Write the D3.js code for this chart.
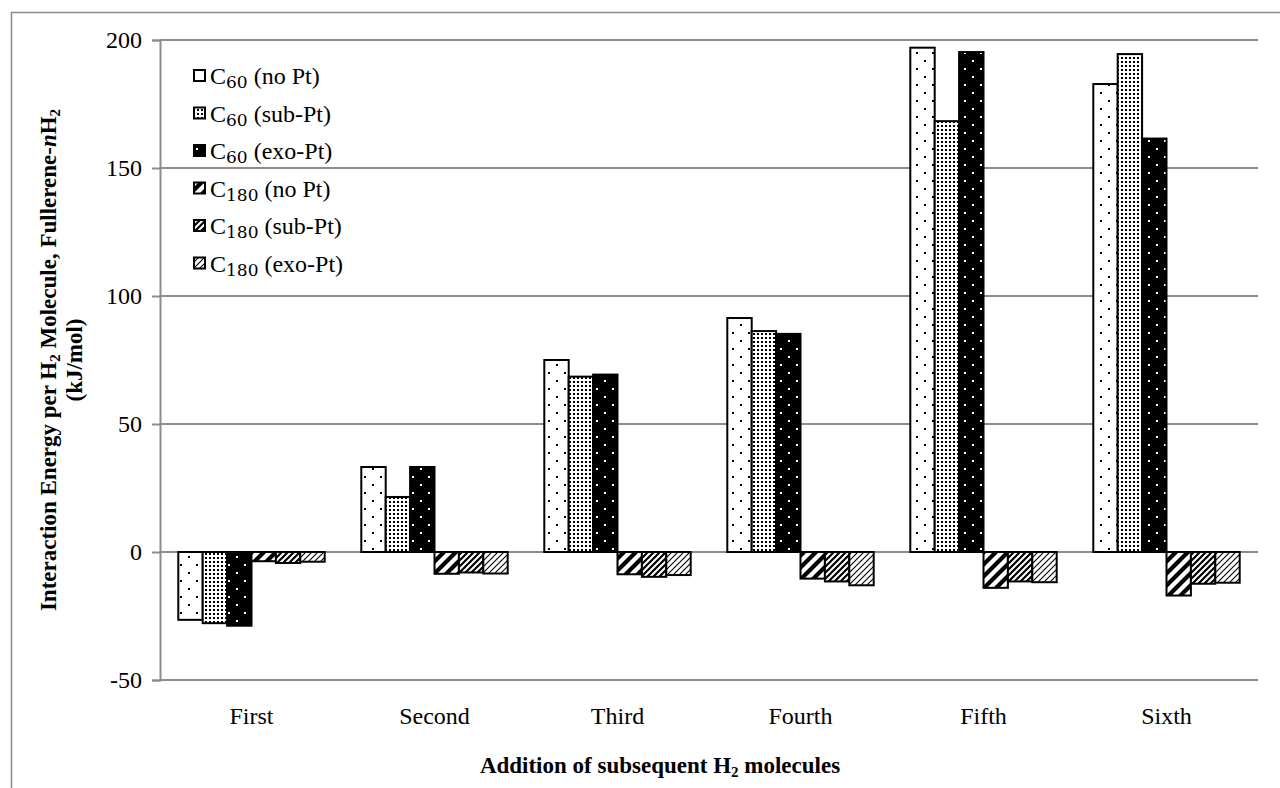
<!DOCTYPE html>
<html><head><meta charset="utf-8">
<script src="https://cdn.jsdelivr.net/npm/d3@7"></script>
<style>body{margin:0;background:#fff}svg{display:block}text{font-family:"Liberation Serif","Times New Roman",serif;fill:#000}</style>
</head><body>
<svg id="c" width="1280" height="788"></svg>
<script>
const categories = ["First","Second","Third","Fourth","Fifth","Sixth"];
const seriesNames = [["C","60"," (no Pt)"],["C","60"," (sub-Pt)"],["C","60"," (exo-Pt)"],["C","180"," (no Pt)"],["C","180"," (sub-Pt)"],["C","180"," (exo-Pt)"]];
const c60NoPt  = [-26.5, 33.2, 75.0, 91.4, 197.0, 182.8];
const c60Sub   = [-27.8, 21.5, 68.5, 86.3, 168.3, 194.5];
const c60Exo   = [-28.8, 33.2, 69.3, 85.2, 195.3, 161.5];
const c180NoPt = [-3.6, -8.5, -8.7, -10.4, -14.0, -17.0];
const c180Sub  = [-4.3, -8.0, -9.7, -11.5, -11.5, -12.4];
const c180Exo  = [-3.8, -8.4, -9.0, -13.0, -11.8, -12.0];
const yTicks = [-50, 0, 50, 100, 150, 200];
const series = [c60NoPt, c60Sub, c60Exo, c180NoPt, c180Sub, c180Exo];

const FONT = "Liberation Serif";
const svg = d3.select("#c");
const defs = svg.append("defs");
function pat(id, w, h, bg, draw){
  const p = defs.append("pattern").attr("id", id).attr("patternUnits","userSpaceOnUse").attr("width", w).attr("height", h);
  p.append("rect").attr("width", w).attr("height", h).attr("fill", bg);
  draw(p);
}
pat("p0", 16, 16, "#fff", p => { p.append("rect").attr("x",4).attr("y",4).attr("width",2).attr("height",2).attr("fill","#000"); p.append("rect").attr("x",12).attr("y",12).attr("width",2).attr("height",2).attr("fill","#000"); });
pat("p1", 4, 4, "#fff", p => { p.append("rect").attr("x",1).attr("y",1).attr("width",2).attr("height",2).attr("fill","#000"); });
pat("p2", 16, 16, "#000", p => { p.append("rect").attr("x",4).attr("y",4).attr("width",2).attr("height",2).attr("fill","#fff"); p.append("rect").attr("x",12).attr("y",12).attr("width",2).attr("height",2).attr("fill","#fff"); });
function diag(id, period, sw){
  pat(id, period, period, "#fff", p => {
    p.append("path").attr("d", `M0,${period} L${period},0 M${-period/2},${period/2} L${period/2},${-period/2} M${period/2},${period*1.5} L${period*1.5},${period/2}`)
      .attr("stroke","#000").attr("stroke-width", sw);
  });
}
diag("p3", 12, 4.2);
diag("p4", 6, 2.2);
diag("p5", 6, 1.1);
const fills = ["p0","p1","p2","p3","p4","p5"];

// chart border
svg.append("rect").attr("x",11.5).attr("y",12.5).attr("width",1300).attr("height",800).attr("fill","none").attr("stroke","#888").attr("stroke-width",1.5);

const x0 = d3.scaleBand().domain(categories).range([160, 1258]).padding(0);
const x1 = d3.scaleBand().domain(d3.range(6)).range([0, x0.bandwidth()]).paddingInner(0).paddingOuter(0.75);
const y = d3.scaleLinear().domain([-50, 200]).range([680, 40]);

// gridlines
svg.append("g").selectAll("line").data(yTicks).join("line")
  .attr("x1",160).attr("x2",1258).attr("y1",d=>y(d)).attr("y2",d=>y(d))
  .attr("stroke","#8c8c8c").attr("stroke-width",2);

// y axis
const ya = svg.append("g").attr("transform","translate(160,0)").call(d3.axisLeft(y).tickValues(yTicks).tickSize(8).tickPadding(10).tickFormat(d => String(d)));
ya.attr("font-family", FONT);
ya.select(".domain").attr("stroke","#8c8c8c").attr("stroke-width",2);
ya.selectAll(".tick line").attr("stroke","#8c8c8c").attr("stroke-width",2);
ya.selectAll(".tick text").attr("font-size",24).attr("font-family",FONT).attr("fill","#000");

// bars
const g = svg.append("g");
series.forEach((vals, si) => {
  g.append("g").selectAll("rect").data(vals).join("rect")
    .attr("x", (d,i) => x0(categories[i]) + x1(si))
    .attr("width", x1.bandwidth())
    .attr("y", d => y(Math.max(0,d)))
    .attr("height", d => Math.abs(y(d) - y(0)))
    .attr("fill", `url(#${fills[si]})`)
    .attr("stroke","#000").attr("stroke-width",2);
});

// category labels
svg.append("g").selectAll("text").data(categories).join("text")
  .attr("x", d => x0(d) + x0.bandwidth()/2).attr("y", 724)
  .attr("text-anchor","middle").attr("font-size",24).attr("font-family",FONT).text(d=>d);

// legend
const lg = svg.append("g");
seriesNames.forEach((n, i) => {
  const cy = 76 + i*37.5;
  lg.append("rect").attr("x",194).attr("y",cy-6).attr("width",11).attr("height",11)
    .attr("fill",`url(#${fills[i]})`).attr("stroke","#000").attr("stroke-width",2);
  const t = lg.append("text").attr("x",210).attr("y",cy+8).attr("font-size",24).attr("font-family",FONT);
  t.append("tspan").text(n[0]);
  t.append("tspan").attr("font-size",17).attr("dy",4).attr("font-family","DejaVu Serif").text(n[1]);
  t.append("tspan").attr("dy",-4).text(n[2]);
});

// x title
const xt = svg.append("text").attr("x",660).attr("y",773).attr("text-anchor","middle").attr("font-size",23).attr("font-weight","bold").attr("font-family",FONT);
xt.append("tspan").text("Addition of subsequent H");
xt.append("tspan").attr("font-size",15).attr("dy",4).text("2");
xt.append("tspan").attr("dy",-4).text(" molecules");

// y title
const yt = svg.append("text").attr("transform","translate(56,360) rotate(-90)").attr("text-anchor","middle").attr("font-size",23).attr("font-weight","bold").attr("font-family",FONT);
yt.append("tspan").text("Interaction Energy per H");
yt.append("tspan").attr("font-size",15).attr("dy",4).text("2");
yt.append("tspan").attr("dy",-4).text(" Molecule, Fullerene-");
yt.append("tspan").attr("font-style","italic").text("n");
yt.append("tspan").text("H");
yt.append("tspan").attr("font-size",15).attr("dy",4).text("2");
svg.append("text").attr("transform","translate(82,360) rotate(-90)").attr("text-anchor","middle").attr("font-size",23).attr("font-weight","bold").attr("font-family",FONT).text("(kJ/mol)");
</script>
</body></html>
